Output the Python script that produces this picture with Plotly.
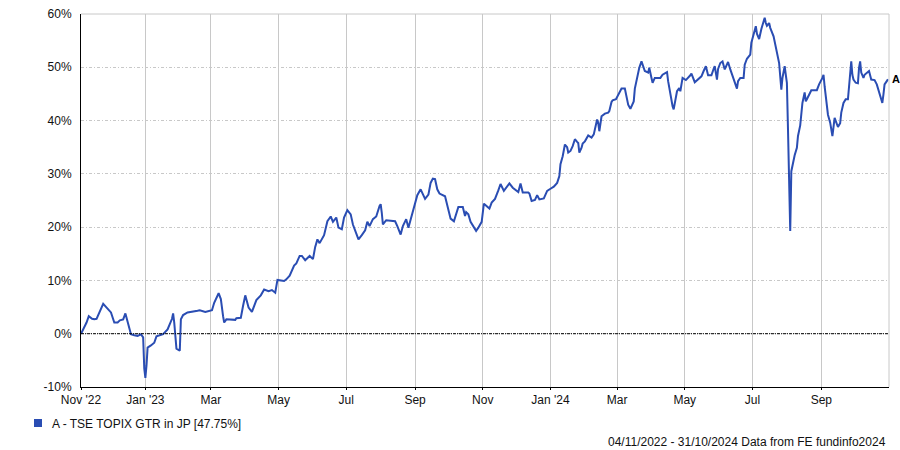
import plotly.graph_objects as go

dates = [
"2022-11-04","2022-11-07","2022-11-09","2022-11-11","2022-11-14","2022-11-16","2022-11-18","2022-11-24","2022-11-28",
"2022-12-01","2022-12-04","2022-12-07","2022-12-09","2022-12-12","2022-12-14","2022-12-16","2022-12-19","2022-12-22",
"2022-12-25","2022-12-28","2022-12-30","2022-12-31","2023-01-01","2023-01-02","2023-01-03","2023-01-06","2023-01-09",
"2023-01-11","2023-01-17","2023-01-21","2023-01-25","2023-01-26","2023-01-27","2023-01-29","2023-02-01","2023-02-02",
"2023-02-04","2023-02-08","2023-02-13","2023-02-17","2023-02-19","2023-02-24","2023-03-02","2023-03-04","2023-03-08",
"2023-03-10","2023-03-12","2023-03-13","2023-03-15","2023-03-18","2023-03-23","2023-03-24","2023-03-28","2023-03-30",
"2023-04-01","2023-04-04","2023-04-07","2023-04-11","2023-04-15","2023-04-18","2023-04-22","2023-04-25","2023-04-28",
"2023-04-30","2023-05-06","2023-05-08","2023-05-11","2023-05-15","2023-05-17","2023-05-20","2023-05-22","2023-05-25",
"2023-05-29","2023-06-01","2023-06-03","2023-06-05","2023-06-07","2023-06-11","2023-06-14","2023-06-17","2023-06-19",
"2023-06-22","2023-06-24","2023-06-27","2023-06-29","2023-07-02","2023-07-05","2023-07-07","2023-07-12","2023-07-15",
"2023-07-18","2023-07-20","2023-07-22","2023-07-25","2023-07-28","2023-07-31","2023-08-01","2023-08-02","2023-08-03",
"2023-08-06","2023-08-11","2023-08-14","2023-08-16","2023-08-19","2023-08-21","2023-08-24","2023-08-26","2023-08-29",
"2023-09-01","2023-09-03","2023-09-06","2023-09-07","2023-09-10","2023-09-13","2023-09-15","2023-09-17","2023-09-19",
"2023-09-21","2023-09-23","2023-09-28","2023-09-29","2023-10-01","2023-10-03","2023-10-06","2023-10-08","2023-10-10",
"2023-10-14","2023-10-16","2023-10-17","2023-10-19","2023-10-21","2023-10-23","2023-10-26","2023-10-28","2023-10-31",
"2023-11-02","2023-11-04","2023-11-07","2023-11-09","2023-11-12","2023-11-15","2023-11-17","2023-11-20","2023-11-23",
"2023-11-25","2023-11-28","2023-12-03","2023-12-05","2023-12-07","2023-12-12","2023-12-13","2023-12-15","2023-12-18",
"2023-12-20","2023-12-22","2023-12-26","2023-12-29","2024-01-01","2024-01-04","2024-01-07","2024-01-09","2024-01-10",
"2024-01-12","2024-01-14","2024-01-16","2024-01-17","2024-01-19","2024-01-21","2024-01-23","2024-01-25","2024-01-26",
"2024-01-27","2024-01-29","2024-01-30","2024-02-01","2024-02-04","2024-02-07","2024-02-09","2024-02-10","2024-02-12",
"2024-02-13","2024-02-14","2024-02-16","2024-02-19","2024-02-22","2024-02-23","2024-02-25","2024-02-26","2024-02-29",
"2024-03-03","2024-03-05","2024-03-08","2024-03-09","2024-03-11","2024-03-13","2024-03-14","2024-03-16","2024-03-17",
"2024-03-19","2024-03-21","2024-03-23","2024-03-24","2024-03-26","2024-03-29","2024-03-30","2024-04-01","2024-04-02",
"2024-04-04","2024-04-09","2024-04-11","2024-04-15","2024-04-16","2024-04-18","2024-04-20","2024-04-21","2024-04-22",
"2024-04-24","2024-04-26","2024-04-27","2024-04-29","2024-05-02","2024-05-06","2024-05-07","2024-05-10","2024-05-13",
"2024-05-16","2024-05-18","2024-05-20","2024-05-22","2024-05-25","2024-05-27","2024-05-28","2024-05-30","2024-05-31",
"2024-06-02","2024-06-04","2024-06-06","2024-06-08","2024-06-09","2024-06-11","2024-06-13","2024-06-15","2024-06-17",
"2024-06-18","2024-06-20","2024-06-23","2024-06-24","2024-06-26","2024-06-29","2024-06-30","2024-07-02","2024-07-04",
"2024-07-05","2024-07-07","2024-07-09","2024-07-11","2024-07-12","2024-07-13","2024-07-14","2024-07-16","2024-07-17",
"2024-07-20","2024-07-23","2024-07-25","2024-07-26","2024-07-27","2024-07-28","2024-07-30","2024-07-31","2024-08-01",
"2024-08-02","2024-08-03","2024-08-04","2024-08-05","2024-08-07","2024-08-08","2024-08-10","2024-08-11","2024-08-13",
"2024-08-14","2024-08-15","2024-08-17","2024-08-18","2024-08-19","2024-08-21","2024-08-23","2024-08-28","2024-08-30",
"2024-09-02","2024-09-03","2024-09-04","2024-09-05","2024-09-06","2024-09-07","2024-09-09","2024-09-10","2024-09-11",
"2024-09-13","2024-09-14","2024-09-16","2024-09-18","2024-09-19","2024-09-21","2024-09-23","2024-09-25","2024-09-26",
"2024-09-27","2024-09-28","2024-09-29","2024-09-30","2024-10-02","2024-10-04","2024-10-05","2024-10-06","2024-10-07",
"2024-10-09","2024-10-10","2024-10-13","2024-10-14","2024-10-16","2024-10-19","2024-10-21","2024-10-23","2024-10-25",
"2024-10-26","2024-10-27","2024-10-28","2024-10-30","2024-10-31",
]

values = [
0.0,1.2,2.1,3.3,2.8,2.7,2.8,5.6,4.7,
4.0,2.1,2.1,2.5,2.7,3.8,2.1,-0.1,-0.3,
-0.4,-0.1,-0.7,-6.5,-8.3,-6.0,-2.6,-2.2,-1.7,
-0.5,-0.1,0.8,2.8,3.8,2.1,-2.8,-3.2,2.7,
3.5,4.0,4.1,4.3,4.4,4.1,4.4,5.8,7.6,
6.5,3.3,2.1,2.7,2.7,2.6,2.9,3.0,5.2,
7.2,4.9,4.1,6.3,7.2,8.3,8.0,8.2,7.7,
10.1,9.9,10.2,10.9,12.8,13.2,14.6,14.6,13.8,
14.6,14.0,16.3,17.7,17.0,18.5,21.1,22.0,21.0,
21.8,19.9,19.6,21.8,23.2,22.4,20.5,17.7,18.5,
19.4,21.0,20.2,21.5,22.0,24.0,24.3,22.7,20.5,
21.3,21.1,21.1,20.2,18.6,20.2,21.5,19.9,22.4,
24.6,26.0,27.1,26.6,25.3,26.1,28.3,29.1,29.0,
27.1,26.3,25.8,24.9,23.3,21.6,21.1,22.7,23.8,
23.8,22.1,22.8,22.4,21.0,20.2,19.3,19.9,21.0,
24.4,24.0,23.5,24.6,25.3,26.9,28.1,26.8,27.6,
28.2,27.4,26.6,28.2,26.5,26.5,26.3,24.9,25.1,
26.0,25.2,25.4,26.8,27.2,27.6,28.3,29.6,31.8,
33.3,35.5,35.0,34.0,34.3,35.2,36.5,36.0,35.8,
34.0,34.9,35.7,36.1,37.2,36.8,37.4,38.6,40.2,
39.6,38.0,40.8,41.3,41.5,41.8,43.5,43.8,44.0,
45.1,46.0,46.0,44.9,43.0,42.2,42.6,43.6,46.0,
48.0,49.9,51.1,50.5,49.3,49.0,49.9,48.0,47.1,
48.0,48.0,48.6,49.1,47.4,44.6,42.7,42.1,43.3,
45.5,46.1,45.5,48.0,47.6,48.5,48.8,47.2,47.7,
48.3,49.3,50.2,48.5,48.5,49.7,50.2,47.7,49.7,
50.8,51.1,49.6,50.5,51.0,49.6,48.3,47.1,46.0,
47.4,48.0,48.0,50.5,51.6,52.4,54.6,56.1,57.7,
56.3,55.3,57.2,59.0,59.3,58.3,57.8,58.3,57.4,
55.8,53.0,50.8,48.3,45.8,48.0,50.2,48.6,47.1,
38.3,29.6,19.3,30.5,32.7,33.5,34.9,37.1,39.1,
40.8,43.3,45.3,43.6,44.0,44.9,45.7,45.7,46.8,
48.0,48.6,46.4,44.6,42.1,41.1,39.6,38.3,37.1,
40.5,39.9,38.8,39.5,41.5,43.3,44.0,44.0,46.1,
49.6,51.1,48.6,47.7,47.1,47.0,49.9,51.1,49.0,
48.0,48.6,49.0,49.3,47.7,47.6,46.8,45.2,44.0,
43.3,44.9,46.8,47.4,47.75,
]

tick_dates = ["2022-11-04","2023-01-01","2023-03-01","2023-05-01","2023-07-01","2023-09-01",
              "2023-11-01","2024-01-01","2024-03-01","2024-05-01","2024-07-01","2024-09-01"]
tick_labels = ["Nov '22","Jan '23","Mar","May","Jul","Sep","Nov","Jan '24","Mar","May","Jul","Sep"]
y_ticks = [-10, 0, 10, 20, 30, 40, 50, 60]
y_labels = ["-10%", "0%", "10%", "20%", "30%", "40%", "50%", "60%"]

series_name = "A - TSE TOPIX GTR in JP [47.75%]"
footer = "04/11/2022 - 31/10/2024 Data from FE fundinfo2024"

LINE = "#2a4db3"
FONT = "Liberation Sans, Arial, sans-serif"

fig = go.Figure()
fig.add_trace(go.Scatter(x=dates, y=values, mode="lines",
                         line=dict(color=LINE, width=2), showlegend=False,
                         hoverinfo="skip"))

fig.update_layout(
    width=900, height=450,
    margin=dict(l=81, r=11, t=14, b=63, autoexpand=False),
    paper_bgcolor="white", plot_bgcolor="white",
    font=dict(family=FONT, size=12, color="#111111"),
    xaxis=dict(
        type="date", range=["2022-11-04", "2024-11-01"],
        tickmode="array", tickvals=tick_dates, ticktext=tick_labels,
        showgrid=True, gridcolor="#c8c8c8", gridwidth=1,
        showline=True, linecolor="black", linewidth=1,
        ticks="outside", ticklen=2, tickcolor="black",
        tickfont=dict(family=FONT, size=12, color="#111111"),
        ticklabeloverflow="allow", automargin=False,
        zeroline=False,
    ),
    yaxis=dict(
        range=[-10, 60], tickmode="array", tickvals=y_ticks, ticktext=y_labels,
        showgrid=True, gridcolor="#c8c8c8", gridwidth=1, griddash="3px,2px,1px,2px",
        showline=True, linecolor="black", linewidth=1,
        ticks="", ticklabelstandoff=6, ticklabeloverflow="allow", automargin=False,
        tickfont=dict(family=FONT, size=12, color="#111111"),
        zeroline=False,
    ),
    shapes=[
        dict(type="line", xref="paper", yref="y", x0=0, x1=1, y0=0, y1=0,
             line=dict(color="black", width=1, dash="3px,1px,1px,1px"), layer="above"),
        dict(type="line", xref="paper", yref="paper", x0=0, x1=1, y0=1, y1=1,
             line=dict(color="#c8c8c8", width=1)),
        dict(type="line", xref="paper", yref="paper", x0=1, x1=1, y0=0, y1=1,
             line=dict(color="#c8c8c8", width=1)),
        dict(type="rect", xref="paper", yref="paper",
             x0=(34-81)/808, x1=(42-81)/808, y0=(387-427)/373, y1=(387-419)/373,
             fillcolor=LINE, line=dict(width=0)),
    ],
    annotations=[
        dict(xref="paper", yref="paper", x=(50-81)/808, y=(387-423.5)/373,
             xanchor="left", yanchor="middle", showarrow=False, text=series_name,
             font=dict(family=FONT, size=12, color="#111111")),
        dict(xref="paper", yref="paper", x=(888-81)/808, y=(387-442)/373,
             xanchor="right", yanchor="middle", showarrow=False, text=footer,
             font=dict(family=FONT, size=12, color="#111111")),
        dict(xref="x", yref="y", x=dates[-1], y=values[-1], xanchor="left",
             yanchor="middle", xshift=2, showarrow=False, text="<b>A</b>",
             font=dict(family=FONT, size=11, color="black")),
    ],
)

# Remove the default 8px page margin so the 900x450 figure fills the window.
fig.write_html("out.html",
               config={"displayModeBar": False, "staticPlot": True},
               post_script="document.body.style.margin='0';document.body.style.overflow='hidden';")
